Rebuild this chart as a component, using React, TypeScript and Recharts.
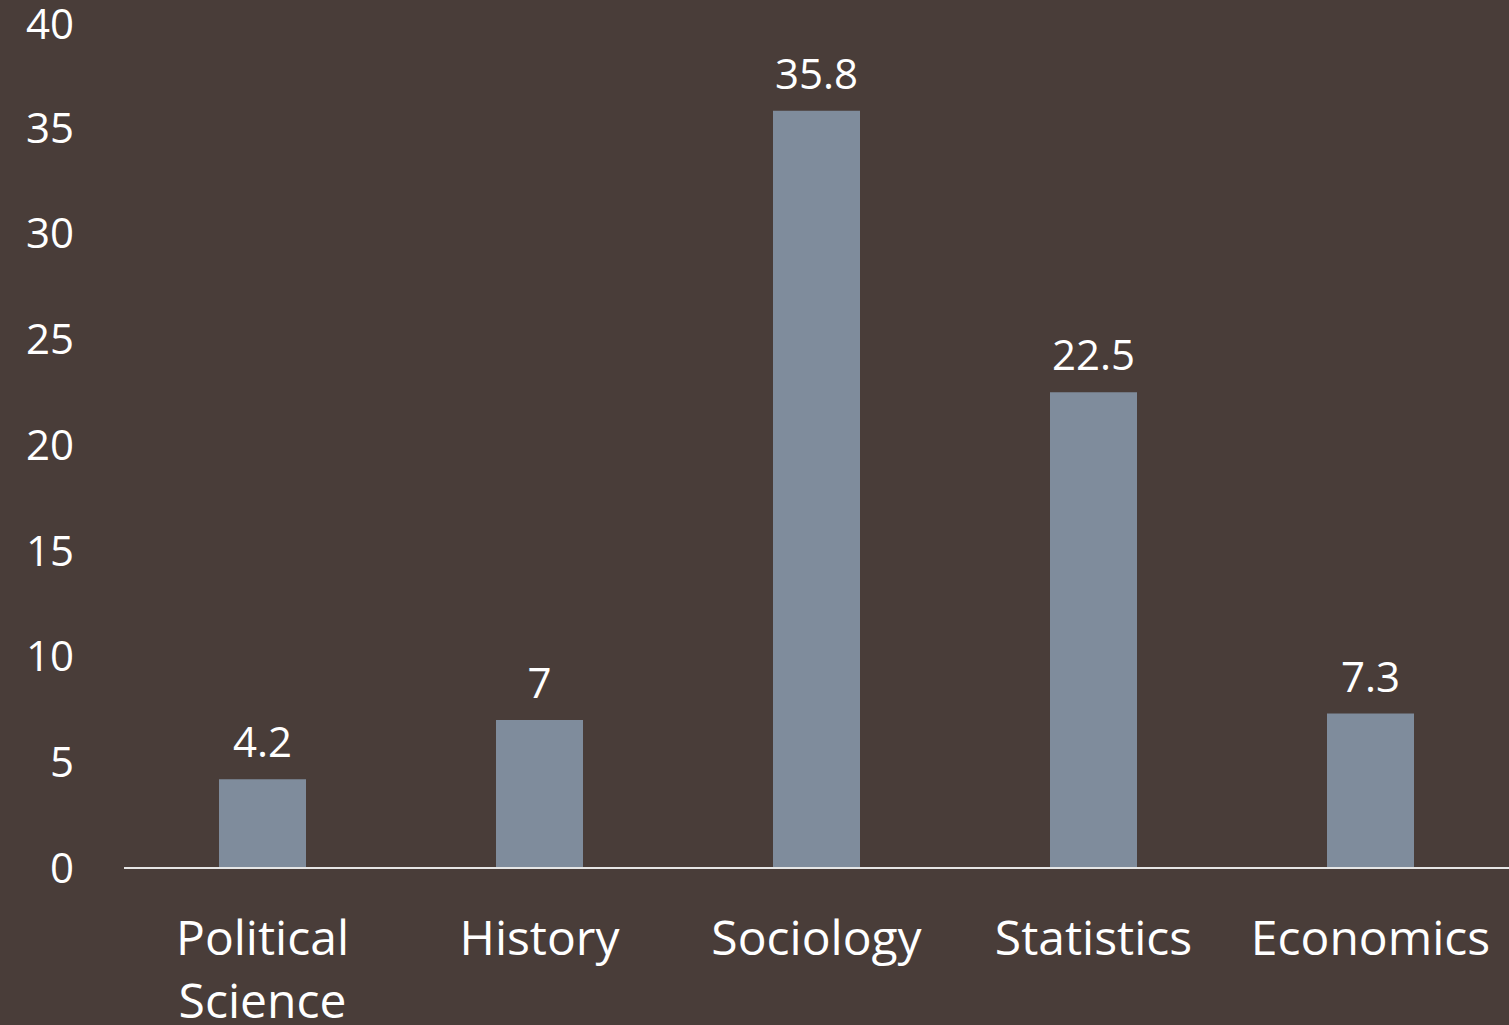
import React from "react";
import { BarChart, Bar, XAxis, YAxis, LabelList } from "recharts";

const categories = ["Political Science", "History", "Sociology", "Statistics", "Economics"];
const values = [4.2, 7, 35.8, 22.5, 7.3];
const yTicks = [0, 5, 10, 15, 20, 25, 30, 35, 40];

const data = categories.map((name, i) => ({ name, value: values[i] }));

const BG = "#493d39";
const BAR = "#7f8c9c";
const FONT = "'Open Sans', sans-serif";

function CategoryTick(props: any) {
  const { x, y, payload } = props;
  const label: string = payload.value;
  const lines = label.length > 12 ? label.split(" ") : [label];
  return (
    <text
      x={x}
      y={y + 87}
      textAnchor="middle"
      fill="#ffffff"
      fontSize={48}
      fontFamily={FONT}
    >
      {lines.map((line, i) => (
        <tspan key={i} x={x} dy={i === 0 ? 0 : 63}>
          {line}
        </tspan>
      ))}
    </text>
  );
}

export default function App() {
  return (
    <div style={{ width: 1509, height: 1025, background: BG }}>
      <style>{`body{margin:0;background:${BG};}`}</style>
      <BarChart
        width={1509}
        height={1025}
        data={data}
        margin={{ top: 22, right: 0, left: 0, bottom: 0 }}
      >
        <XAxis
          dataKey="name"
          height={157}
          tickLine={false}
          tickSize={0}
          tickMargin={0}
          axisLine={{ stroke: "#e6e6e6", strokeWidth: 2 }}
          tick={<CategoryTick />}
          interval={0}
        />
        <YAxis
          width={124}
          domain={[0, 40]}
          ticks={yTicks}
          axisLine={false}
          tickLine={false}
          tickSize={0}
          tickMargin={50}
          tick={{ fill: "#ffffff", fontSize: 42, fontFamily: FONT }}
        />
        <Bar dataKey="value" fill={BAR} barSize={87} isAnimationActive={false}>
          <LabelList
            dataKey="value"
            position="top"
            offset={22}
            fill="#ffffff"
            fontSize={42}
            fontFamily={FONT}
          />
        </Bar>
      </BarChart>
    </div>
  );
}
